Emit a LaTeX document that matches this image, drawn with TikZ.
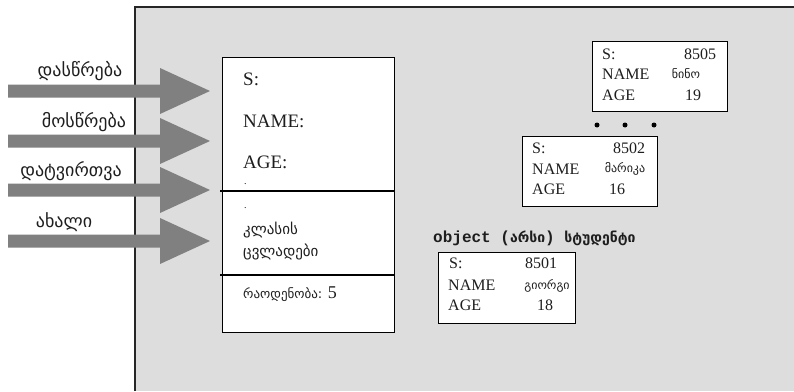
\documentclass[tikz,border=0pt]{standalone}
\usepackage{fontspec}
\setmainfont{Liberation Serif}
\newfontfamily\geo{DejaVu Sans}
\newfontfamily\monof{Liberation Mono}
\definecolor{bggray}{RGB}{221,221,221}
\definecolor{arrgray}{RGB}{128,128,128}
\definecolor{txt}{RGB}{30,30,30}
\begin{document}
\begin{tikzpicture}[x=1pt,y=-1pt,
  every node/.style={inner sep=0pt,text=txt},
  tl/.style={anchor=west,font=\fontsize{19}{19}\selectfont},
  ol/.style={anchor=west,font=\fontsize{16}{16}\selectfont},
  on/.style={anchor=center,font=\fontsize{16}{16}\selectfont},
  gl/.style={anchor=center,font=\geo\fontsize{18}{18}\selectfont},
  gc/.style={anchor=west,font=\geo\fontsize{15}{15}\selectfont},
  gs/.style={anchor=center,font=\geo\fontsize{12}{12}\selectfont},
  objbox/.style={draw=black,line width=1.1pt,fill=white,anchor=north west,minimum width=135pt,minimum height=70pt},
  dotc/.style={circle,fill=black,minimum size=5pt}]
\useasboundingbox (0,0) rectangle (794,391);
% background panel
\fill[bggray] (135,7) rectangle (794,391);
\draw[line width=1.2pt,black!85] (135,391) -- (135,7) -- (794,7);
% arrows
\foreach \yy/\nm in {91/a1,141/a2,190/a3,241/a4}{
  \fill[arrgray] (8,\yy-6.5) -- (160,\yy-6.5) -- (160,\yy-23) -- (210,\yy) -- (160,\yy+23) -- (160,\yy+6.5) -- (8,\yy+6.5) -- cycle;
  \coordinate (\nm) at (210,\yy);
}
\node[gl] (l1) at (80,71) {დასწრება};
\node[gl] (l2) at (84,122) {მოსწრება};
\node[gl] (l3) at (71,171) {დატვირთვა};
\node[gl] (l4) at (64,222) {ახალი};
% class box
\node[draw=black,line width=1.2pt,fill=white,anchor=north west,minimum width=172pt,minimum height=275pt] (cls) at (222,57) {};
\draw[line width=1.2pt] (220,191) -- (cls.east |- 0,191);
\draw[line width=1.2pt] (220,275) -- (cls.east |- 0,275);
\node[tl] (cs) at (243,79) {S:};
\node[tl] (cn) at (243,121) {NAME:};
\node[tl] (ca) at (243,162) {AGE:};
\node[anchor=west,font=\fontsize{10}{10}\selectfont] (cd1) at (244,184) {.};
\node[anchor=west,font=\fontsize{10}{10}\selectfont] (cd2) at (244,208) {.};
\node[gc] (cv1) at (243,230) {კლასის};
\node[gc] (cv2) at (243,252) {ცვლადები};
\node[anchor=west,font=\geo\fontsize{13}{13}\selectfont] (cr) at (243,294) {რაოდენობა: \fontspec{Liberation Serif}\fontsize{18}{18}\selectfont 5};
% object 8505
\node[objbox] (o3) at (592,41) {};
\node[ol] (o3s) at (602,54) {S:};
\node[on] (o3v) at (700,54) {8505};
\node[ol] (o3n) at (602,74) {NAME};
\node[gs] (o3nv) at (686,74) {ნინო};
\node[ol] (o3a) at (602,95) {AGE};
\node[on] (o3av) at (693,95) {19};
% dots
\node[dotc] (d1) at (597,125) {};
\node[dotc] (d2) at (625,125) {};
\node[dotc] (d3) at (654,125) {};
% object 8502
\node[objbox] (o2) at (522,136) {};
\node[ol] (o2s) at (532,148) {S:};
\node[on] (o2v) at (629,148) {8502};
\node[ol] (o2n) at (532,169) {NAME};
\node[gs] (o2nv) at (625,169) {მარიკა};
\node[ol] (o2a) at (532,189) {AGE};
\node[on] (o2av) at (617,189) {16};
% label
\node[anchor=west,font=\fontsize{16}{16}\selectfont] (olab) at (433,238) {\monof\bfseries object (\geo\bfseries\fontsize{14}{14}\selectfont არსი\monof\fontsize{16}{16}\selectfont) \geo\bfseries\fontsize{14}{14}\selectfont სტუდენტი};
% object 8501
\node[objbox,minimum width=137pt,minimum height=71pt] (o1) at (438,252) {};
\node[ol] (o1s) at (449,263) {S:};
\node[on] (o1v) at (541,263) {8501};
\node[ol] (o1n) at (448,285) {NAME};
\node[gs] (o1nv) at (547,286) {გიორგი};
\node[ol] (o1a) at (448,305) {AGE};
\node[on] (o1av) at (545,305) {18};
\end{tikzpicture}
\end{document}
